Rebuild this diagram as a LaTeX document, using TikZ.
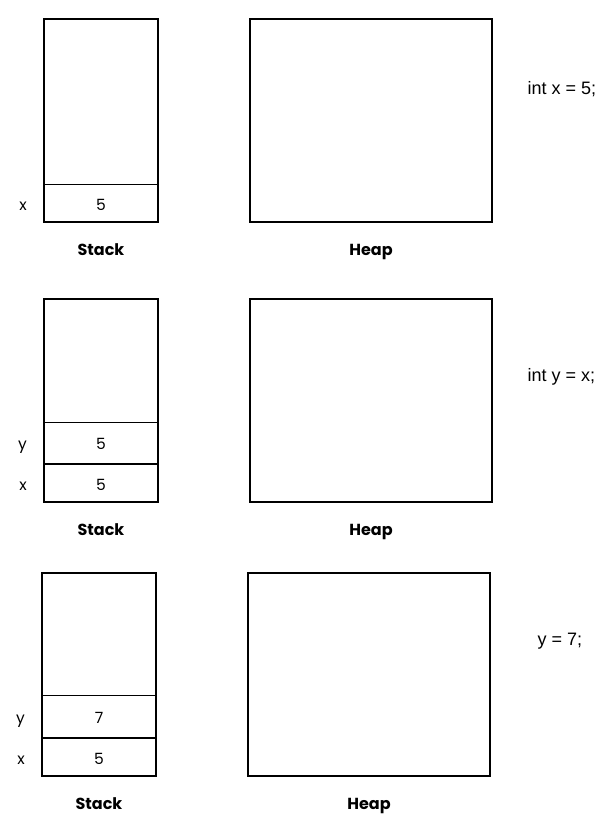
\documentclass[tikz,border=0pt]{standalone}
\usepackage{fontspec}
\setmainfont{Poppins}
\newfontfamily\codefont{Liberation Sans}
\usetikzlibrary{positioning}
\begin{document}
\begin{tikzpicture}[x=1pt,y=-1pt]
  \tikzstyle{every node}=[font=\fontsize{15.5}{18}\selectfont,text height=14pt,text depth=0pt]
  \tikzstyle{stackbox}=[draw,line width=1.6pt,minimum width=114pt,minimum height=203pt,inner sep=0pt]
  \tikzstyle{heapbox}=[draw,line width=1.6pt,minimum width=242pt,minimum height=203pt,inner sep=0pt]
  \tikzstyle{cell}=[draw,line width=1.1pt,minimum width=114pt,inner sep=0pt]
  \tikzstyle{var}=[left=13pt]
  \tikzstyle{caption}=[font=\fontsize{16}{18}\selectfont\bfseries,below=15pt]
  \tikzstyle{code}=[font=\fontsize{18}{20}\selectfont\codefont,anchor=west]
  \useasboundingbox (0,0) rectangle (606,838);
  % int x = 5;
  \node [stackbox] (stack1) at (101,120.5) {};
  \node [heapbox] (heap1) at (371,120.5) {};
  \node [cell,minimum height=38pt,anchor=south] (x1) at (stack1.south) {5};
  \node [var] at (x1.west) {x};
  \node [caption] at (stack1.south) {Stack};
  \node [caption] at (heap1.south) {Heap};
  \node [code] at (524,87) {int x = 5;};
  % int y = x;
  \node [stackbox] (stack2) at (101,400.5) {};
  \node [heapbox] (heap2) at (371,400.5) {};
  \node [cell,minimum height=38pt,anchor=south] (x2) at (stack2.south) {5};
  \node [cell,minimum height=41pt,anchor=south] (y2) at (x2.north) {5};
  \node [var] at (x2.west) {x};
  \node [var] at (y2.west) {y};
  \node [caption] at (stack2.south) {Stack};
  \node [caption] at (heap2.south) {Heap};
  \node [code] at (524,374) {int y = x;};
  % y = 7;
  \node [stackbox] (stack3) at (99,674.5) {};
  \node [heapbox] (heap3) at (369,674.5) {};
  \node [cell,minimum height=38pt,anchor=south] (x3) at (stack3.south) {5};
  \node [cell,minimum height=42pt,anchor=south] (y3) at (x3.north) {7};
  \node [var] at (x3.west) {x};
  \node [var] at (y3.west) {y};
  \node [caption] at (stack3.south) {Stack};
  \node [caption] at (heap3.south) {Heap};
  \node [code] at (534,638) {y = 7;};
\end{tikzpicture}
\end{document}
